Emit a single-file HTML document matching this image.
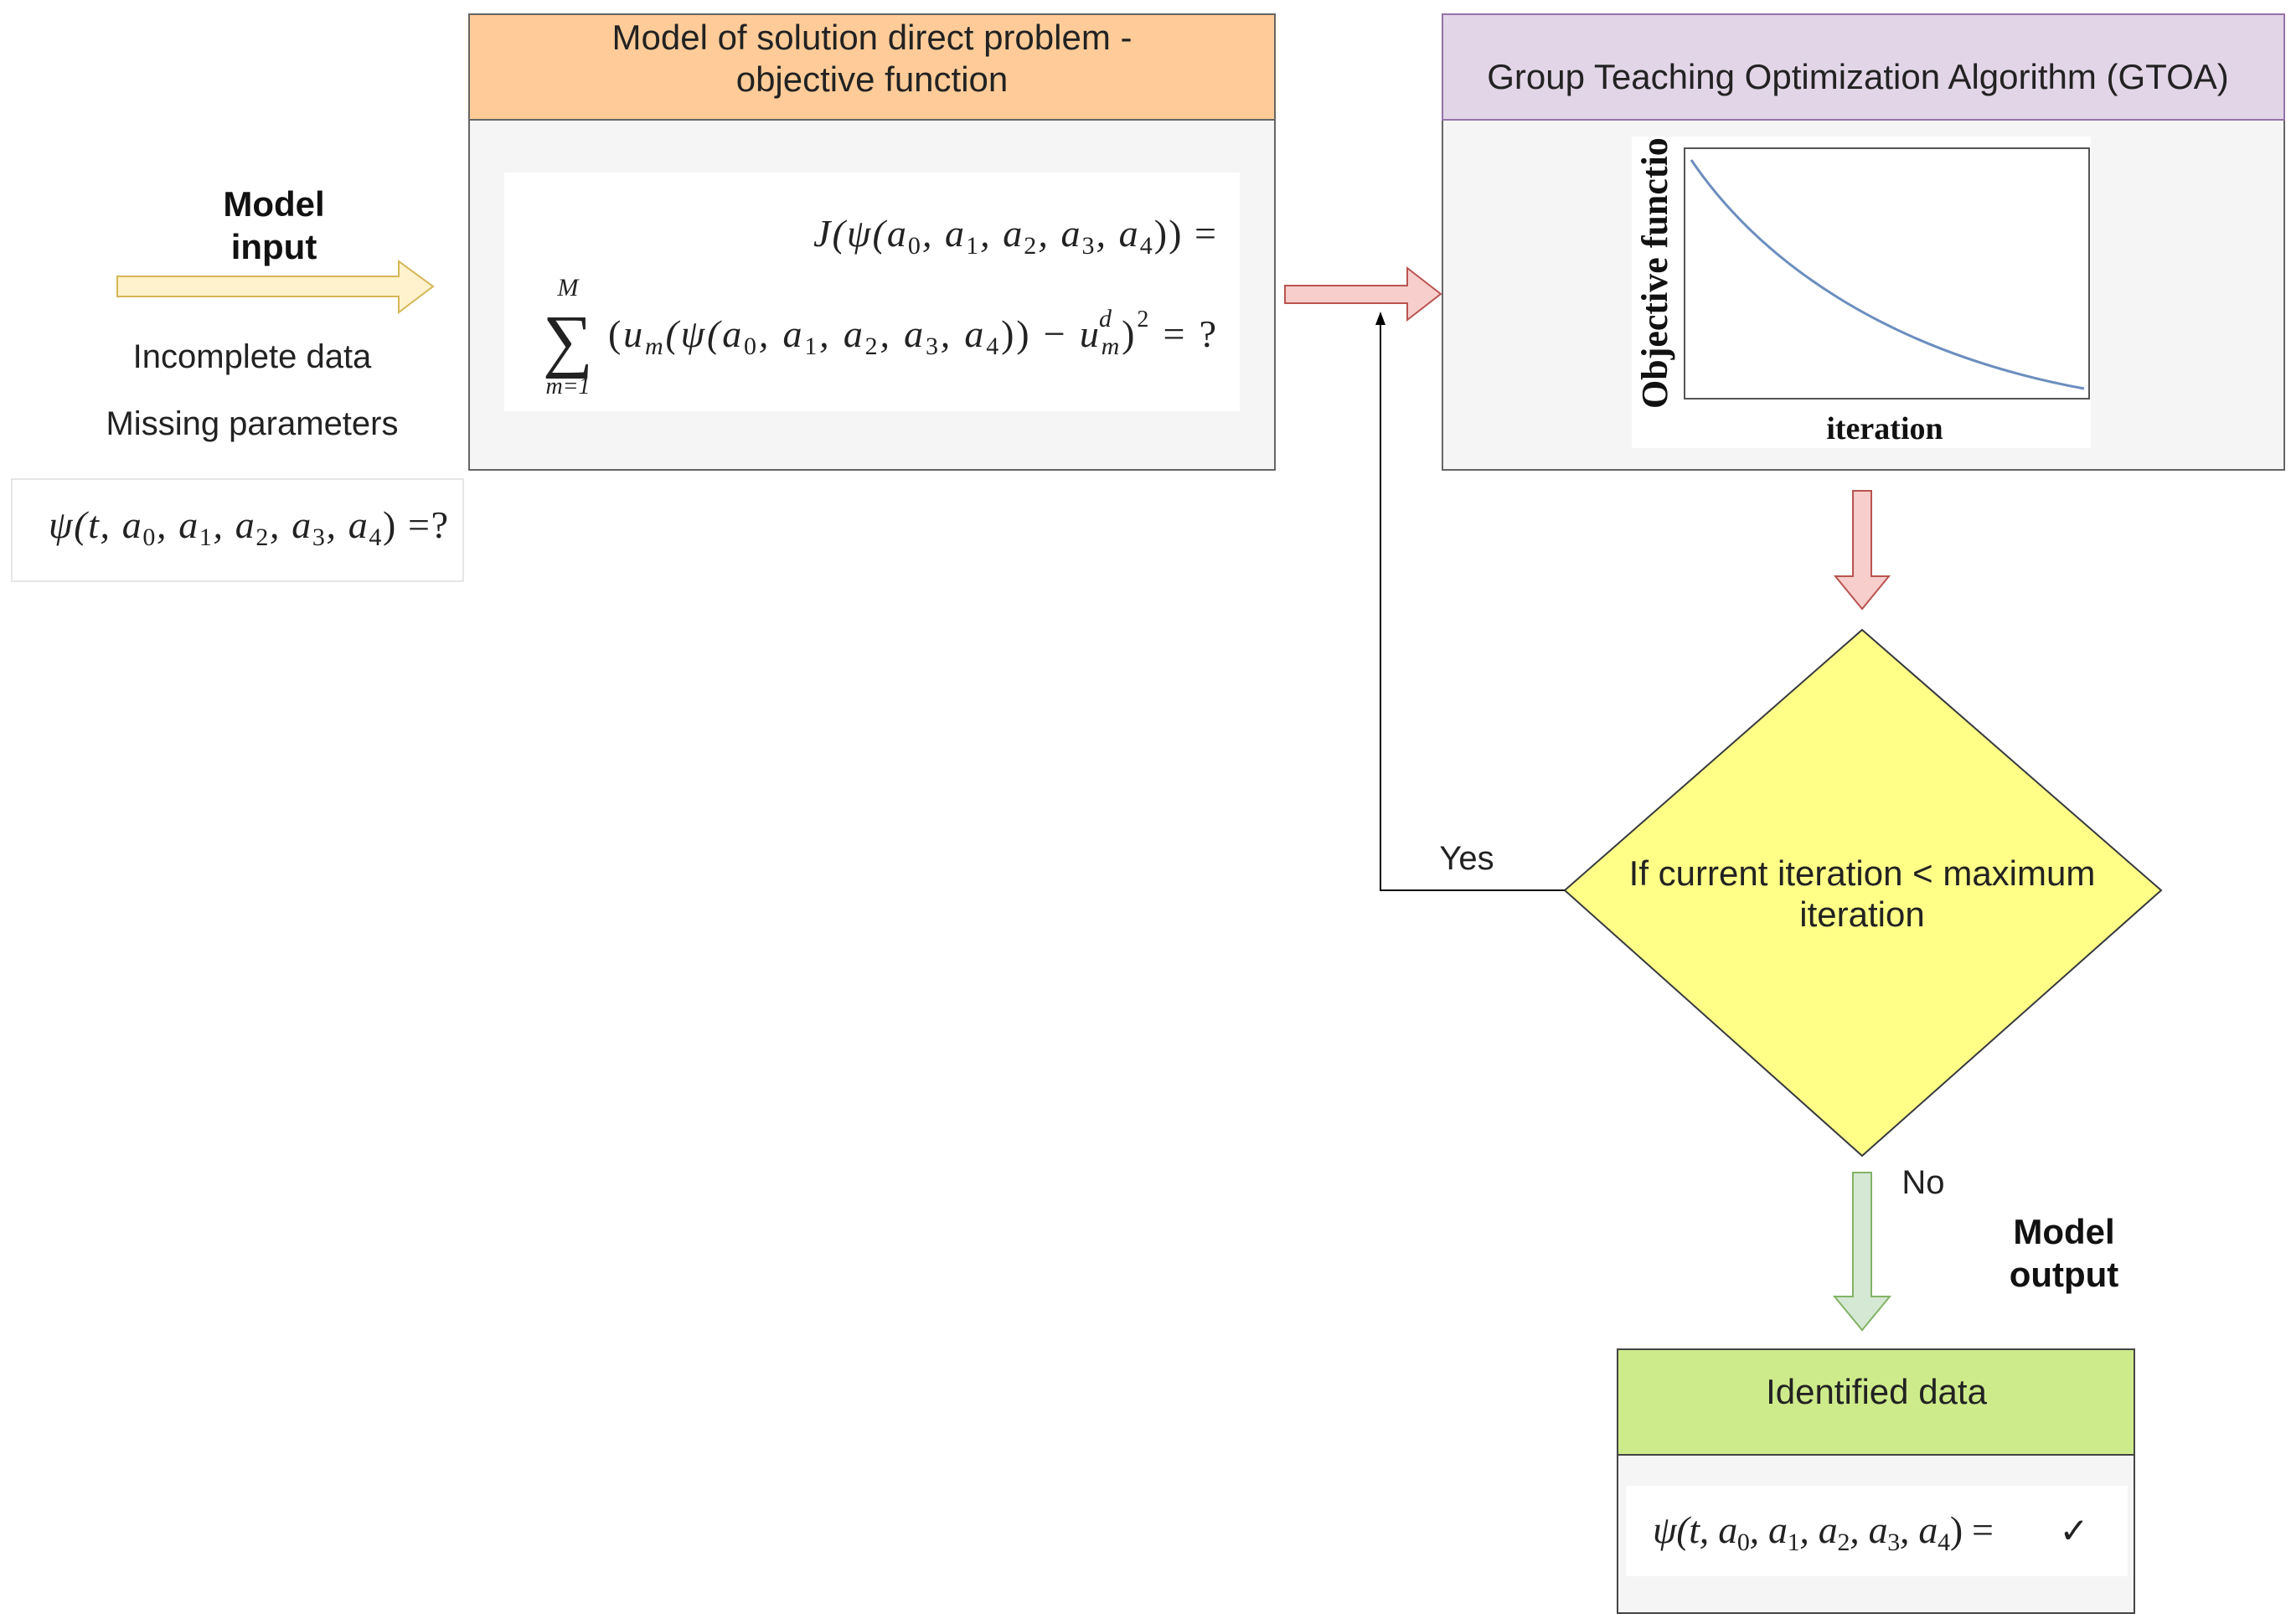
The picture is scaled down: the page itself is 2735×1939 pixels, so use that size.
<!DOCTYPE html>
<html><head><meta charset="utf-8"><style>
html,body{margin:0;padding:0;background:#fff;}
svg{display:block;}
.s{font-family:"Liberation Sans",sans-serif;}
.m{font-family:"Liberation Serif",serif;font-style:italic;}
.n{font-style:normal;}
</style></head><body>
<svg width="2735" height="1939" viewBox="0 0 2735 1939" xmlns="http://www.w3.org/2000/svg">
<!-- Orange box -->
<rect x="560" y="17" width="962" height="544" fill="#f5f5f5" stroke="#666" stroke-width="2"/>
<rect x="560" y="17" width="962" height="126" fill="#ffcc99" stroke="#666" stroke-width="2"/>
<text class="s" x="1041" y="59" font-size="42" text-anchor="middle" fill="#222">Model of solution direct problem -</text>
<text class="s" x="1041" y="109" font-size="42" text-anchor="middle" fill="#222">objective function</text>
<rect x="602" y="206" width="878" height="285" fill="#fff"/>
<text class="m" x="971" y="294" font-size="46" fill="#222" textLength="481" lengthAdjust="spacing">J(ψ(a<tspan class="n" font-size="30" dy="9">0</tspan><tspan dy="-9">, a</tspan><tspan class="n" font-size="30" dy="9">1</tspan><tspan dy="-9">, a</tspan><tspan class="n" font-size="30" dy="9">2</tspan><tspan dy="-9">, a</tspan><tspan class="n" font-size="30" dy="9">3</tspan><tspan dy="-9">, a</tspan><tspan class="n" font-size="30" dy="9">4</tspan><tspan dy="-9" class="n">)) =</tspan></text>
<text class="m" x="678" y="353" font-size="30" text-anchor="middle" fill="#222">M</text>
<text x="678" y="434" font-size="84" text-anchor="middle" fill="#222" font-family="Liberation Serif,serif">∑</text>
<text class="m" x="678" y="470" font-size="28" text-anchor="middle" fill="#222">m=1</text>
<text class="m" x="726" y="414" font-size="46" fill="#222" textLength="726" lengthAdjust="spacing"><tspan class="n">(</tspan>u<tspan font-size="30" dy="9">m</tspan><tspan dy="-9">(ψ(a</tspan><tspan class="n" font-size="30" dy="9">0</tspan><tspan dy="-9">, a</tspan><tspan class="n" font-size="30" dy="9">1</tspan><tspan dy="-9">, a</tspan><tspan class="n" font-size="30" dy="9">2</tspan><tspan dy="-9">, a</tspan><tspan class="n" font-size="30" dy="9">3</tspan><tspan dy="-9">, a</tspan><tspan class="n" font-size="30" dy="9">4</tspan><tspan dy="-9" class="n">)) − </tspan>u<tspan font-size="30" dy="9">m</tspan><tspan dy="-9" class="n">)</tspan><tspan class="n" font-size="28" dy="-24">2</tspan><tspan dy="24" class="n"> = ?</tspan></text>
<text class="m" x="1312" y="390" font-size="30" fill="#222">d</text>

<!-- Model input -->
<text class="s" x="327" y="258" font-size="42" font-weight="bold" text-anchor="middle" fill="#111">Model</text>
<text class="s" x="327" y="309" font-size="42" font-weight="bold" text-anchor="middle" fill="#111">input</text>
<polygon points="140,330 476,330 476,312 517,342 476,373 476,354 140,354" fill="#fff2cc" stroke="#d6b656" stroke-width="2"/>
<text class="s" x="301" y="439" font-size="40" text-anchor="middle" fill="#222">Incomplete data</text>
<text class="s" x="301" y="519" font-size="40" text-anchor="middle" fill="#222">Missing parameters</text>
<rect x="14" y="572" width="539" height="122" fill="#fff" stroke="#ddd" stroke-width="1.5"/>
<text class="m" x="58" y="642" font-size="46" fill="#222" textLength="477" lengthAdjust="spacing">ψ(t, a<tspan class="n" font-size="30" dy="9">0</tspan><tspan dy="-9">, a</tspan><tspan class="n" font-size="30" dy="9">1</tspan><tspan dy="-9">, a</tspan><tspan class="n" font-size="30" dy="9">2</tspan><tspan dy="-9">, a</tspan><tspan class="n" font-size="30" dy="9">3</tspan><tspan dy="-9">, a</tspan><tspan class="n" font-size="30" dy="9">4</tspan><tspan dy="-9" class="n">) =?</tspan></text>

<!-- GTOA box -->
<rect x="1722" y="17" width="1005" height="544" fill="#f5f5f5" stroke="#666" stroke-width="2"/>
<rect x="1948" y="163" width="548" height="372" fill="#fff"/>
<rect x="2011" y="177" width="483" height="299" fill="#fff" stroke="#555" stroke-width="2"/>
<path d="M2019,191 C2100,310 2250,420 2488,464" fill="none" stroke="#6c8ebf" stroke-width="3"/>
<text x="0" y="0" transform="translate(1990,488) rotate(-90)" font-family="Liberation Serif,serif" font-weight="bold" font-size="44" fill="#111">Objective function</text>
<rect x="1940" y="100" width="80" height="63" fill="#f5f5f5"/>
<rect x="1722" y="17" width="1005" height="126" fill="#e1d5e7" stroke="#9673a6" stroke-width="2"/>
<text class="s" x="2218" y="106" font-size="42" text-anchor="middle" fill="#222">Group Teaching Optimization Algorithm (GTOA)</text>
<text x="2250" y="524" font-family="Liberation Serif,serif" font-weight="bold" font-size="38" text-anchor="middle" fill="#111">iteration</text>

<!-- red right arrow -->
<polygon points="1534,341 1680,341 1680,320 1720,351 1680,382 1680,362 1534,362" fill="#f8cecc" stroke="#b85450" stroke-width="2"/>
<!-- red down arrow -->
<polygon points="2212,586 2234,586 2234,688 2255,688 2223,727 2191,688 2212,688" fill="#f8cecc" stroke="#b85450" stroke-width="2"/>

<!-- diamond -->
<polygon points="2223,752 2580,1063 2223,1380 1868,1063" fill="#ffff88" stroke="#36393d" stroke-width="2"/>
<text class="s" x="2223" y="1057" font-size="42" text-anchor="middle" fill="#222">If current iteration &lt; maximum</text>
<text class="s" x="2223" y="1106" font-size="42" text-anchor="middle" fill="#222">iteration</text>

<!-- Yes connector -->
<polyline points="1868,1063 1648,1063 1648,385" fill="none" stroke="#000" stroke-width="2"/>
<polygon points="1648,372 1642,388 1654,388" fill="#000"/>
<text class="s" x="1751" y="1038" font-size="40" text-anchor="middle" fill="#222">Yes</text>

<!-- green arrow -->
<polygon points="2212,1400 2234,1400 2234,1548 2256,1548 2223,1588 2190,1548 2212,1548" fill="#d5e8d4" stroke="#82b366" stroke-width="2"/>
<text class="s" x="2296" y="1425" font-size="40" text-anchor="middle" fill="#222">No</text>
<text class="s" x="2464" y="1485" font-size="42" font-weight="bold" text-anchor="middle" fill="#111">Model</text>
<text class="s" x="2464" y="1536" font-size="42" font-weight="bold" text-anchor="middle" fill="#111">output</text>

<!-- Identified data -->
<rect x="1931" y="1611" width="617" height="315" fill="#f5f5f5" stroke="#444" stroke-width="2"/>
<rect x="1931" y="1611" width="617" height="126" fill="#cdeb8b" stroke="#444" stroke-width="2"/>
<text class="s" x="2240" y="1676" font-size="42" text-anchor="middle" fill="#222">Identified data</text>
<rect x="1941" y="1774" width="599" height="108" fill="#fff"/>
<text class="m" x="1973" y="1842" font-size="46" fill="#222" textLength="407" lengthAdjust="spacing">ψ(t, a<tspan class="n" font-size="30" dy="9">0</tspan><tspan dy="-9">, a</tspan><tspan class="n" font-size="30" dy="9">1</tspan><tspan dy="-9">, a</tspan><tspan class="n" font-size="30" dy="9">2</tspan><tspan dy="-9">, a</tspan><tspan class="n" font-size="30" dy="9">3</tspan><tspan dy="-9">, a</tspan><tspan class="n" font-size="30" dy="9">4</tspan><tspan dy="-9" class="n">) =</tspan></text>
<text x="2476" y="1842" font-size="42" text-anchor="middle" fill="#222" font-family="DejaVu Sans,sans-serif">✓</text>
</svg>
</body></html>
